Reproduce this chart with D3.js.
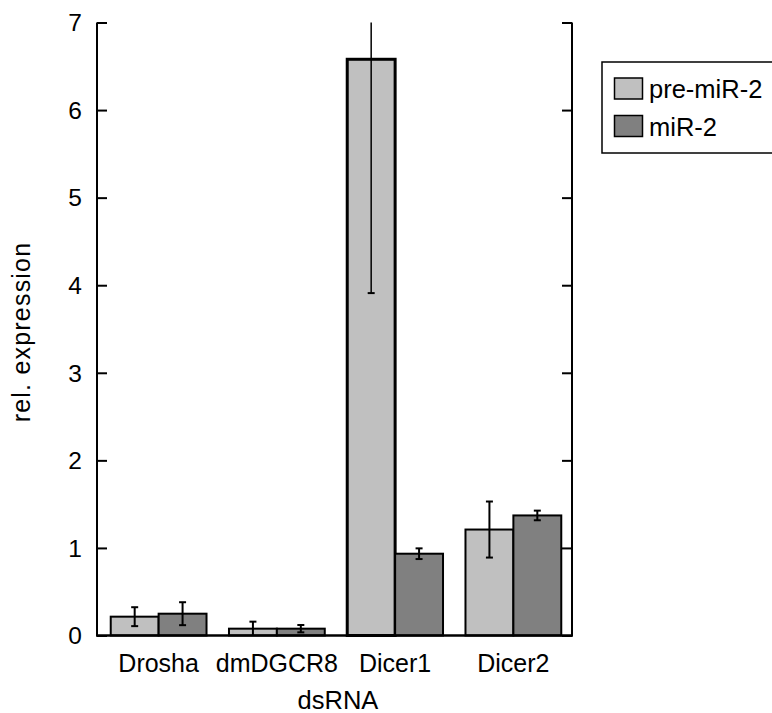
<!DOCTYPE html>
<html>
<head>
<meta charset="utf-8">
<script src="https://cdn.jsdelivr.net/npm/d3@7"></script>
<style>
  html, body { margin: 0; padding: 0; background: #fff; }
  svg { display: block; font-family: "Liberation Sans", Arial, Helvetica, sans-serif; }
</style>
</head>
<body>
<svg id="chart" width="772" height="713"></svg>
<script>
const categories = ["Drosha", "dmDGCR8", "Dicer1", "Dicer2"];
const seriesNames = ["pre-miR-2", "miR-2"];
const preValues = [0.215, 0.078, 6.58, 1.21];
const preErrors = [0.108, 0.08, 2.67, 0.32];
const mirValues = [0.249, 0.078, 0.934, 1.371];
const mirErrors = [0.131, 0.042, 0.061, 0.055];
const yTicks = [0, 1, 2, 3, 4, 5, 6, 7];
const xTitle = "dsRNA";
const yTitle = "rel. expression";

const colors = ["#c0c0c0", "#808080"];

const svg = d3.select("#chart");
const yMax = 7;
const y = d3.scaleLinear().domain([0, yMax]).range([635.5, 22.5]);
const x0 = d3.scaleBand().domain(categories).range([99.5, 572.5]).paddingInner(0.19).paddingOuter(0.095);
const x1 = d3.scaleBand().domain(seriesNames).range([0, x0.bandwidth()]);

const data = categories.map((c, i) => ({
  cat: c,
  vals: [
    { s: seriesNames[0], v: preValues[i], e: preErrors[i] },
    { s: seriesNames[1], v: mirValues[i], e: mirErrors[i] }
  ]
}));

// bars
const g = svg.append("g");
const groups = g.selectAll("g.grp").data(data).join("g")
  .attr("transform", d => `translate(${x0(d.cat)},0)`);

groups.selectAll("rect").data(d => d.vals.map(v => Object.assign({cat: d.cat}, v))).join("rect")
  .attr("x", d => x1(d.s))
  .attr("y", d => y(d.v))
  .attr("width", x1.bandwidth())
  .attr("height", d => y(0) - y(d.v))
  .attr("fill", d => colors[seriesNames.indexOf(d.s)])
  .attr("stroke", "#000")
  .attr("stroke-width", d => d.v > 5 ? 3 : 2);

// error bars
groups.each(function(d) {
  const gg = d3.select(this);
  d.vals.forEach(v => {
    const cx = x1(v.s) + x1.bandwidth() / 2;
    const hiRaw = v.v + v.e, loRaw = v.v - v.e;
    const hi = Math.min(hiRaw, yMax), lo = Math.max(loRaw, 0);
    const big = v.v > 5;
    gg.append("line").attr("x1", cx).attr("x2", cx).attr("y1", y(hi)).attr("y2", y(lo))
      .attr("stroke", "#000").attr("stroke-width", big ? 1.5 : 2);
    const cw = 3.5;
    if (hiRaw <= yMax)
      gg.append("line").attr("x1", cx - cw).attr("x2", cx + cw).attr("y1", y(hi)).attr("y2", y(hi))
        .attr("stroke", "#000").attr("stroke-width", 2);
    if (loRaw >= 0)
      gg.append("line").attr("x1", cx - cw).attr("x2", cx + cw).attr("y1", y(lo)).attr("y2", y(lo))
        .attr("stroke", "#000").attr("stroke-width", 2);
  });
});

// left axis
const leftAx = svg.append("g").attr("transform", "translate(97,0)")
  .call(d3.axisRight(y).tickValues(yTicks).tickSize(10).tickFormat(""));
leftAx.select(".domain").attr("d", `M0,${y(yMax)}V${y(0)}`);
leftAx.selectAll("line, path").attr("stroke", "#000").attr("stroke-width", 2);

// right axis
const rightAx = svg.append("g").attr("transform", "translate(572,0)")
  .call(d3.axisLeft(y).tickValues(yTicks).tickSize(10).tickFormat(""));
rightAx.select(".domain").attr("d", `M0,${y(yMax)}V${y(0)}`);
rightAx.selectAll("line, path").attr("stroke", "#000").attr("stroke-width", 2);

// tick labels
svg.append("g").selectAll("text").data(yTicks).join("text")
  .attr("x", 82).attr("y", d => y(d)).attr("dy", "0.36em")
  .attr("text-anchor", "end").attr("font-size", 24.5).text(d => d);

// baseline
svg.append("line").attr("x1", 96).attr("x2", 573).attr("y1", y(0)).attr("y2", y(0))
  .attr("stroke", "#000").attr("stroke-width", 2.5);

// category labels
svg.append("g").selectAll("text").data(categories).join("text")
  .attr("x", d => x0(d) + x0.bandwidth() / 2).attr("y", 672)
  .attr("text-anchor", "middle").attr("font-size", 25).text(d => d);

// axis titles
svg.append("text").attr("x", 338).attr("y", 709).attr("text-anchor", "middle")
  .attr("font-size", 25.5).text(xTitle);
svg.append("text").attr("transform", "translate(29.5,332) rotate(-90)")
  .attr("text-anchor", "middle").attr("font-size", 25).attr("letter-spacing", 1.2).text(yTitle);

// legend
const lg = svg.append("g");
lg.append("rect").attr("x", 602).attr("y", 62).attr("width", 200).attr("height", 91)
  .attr("fill", "#fff").attr("stroke", "#000").attr("stroke-width", 1.5);
seriesNames.forEach((s, i) => {
  const yy = 78 + i * 37.5;
  lg.append("rect").attr("x", 614.5).attr("y", yy).attr("width", 28).attr("height", 21)
    .attr("fill", colors[i]).attr("stroke", "#000").attr("stroke-width", 1.5);
  lg.append("text").attr("x", 649).attr("y", yy + 20).attr("font-size", 25.5).text(s);
});
</script>
</body>
</html>
